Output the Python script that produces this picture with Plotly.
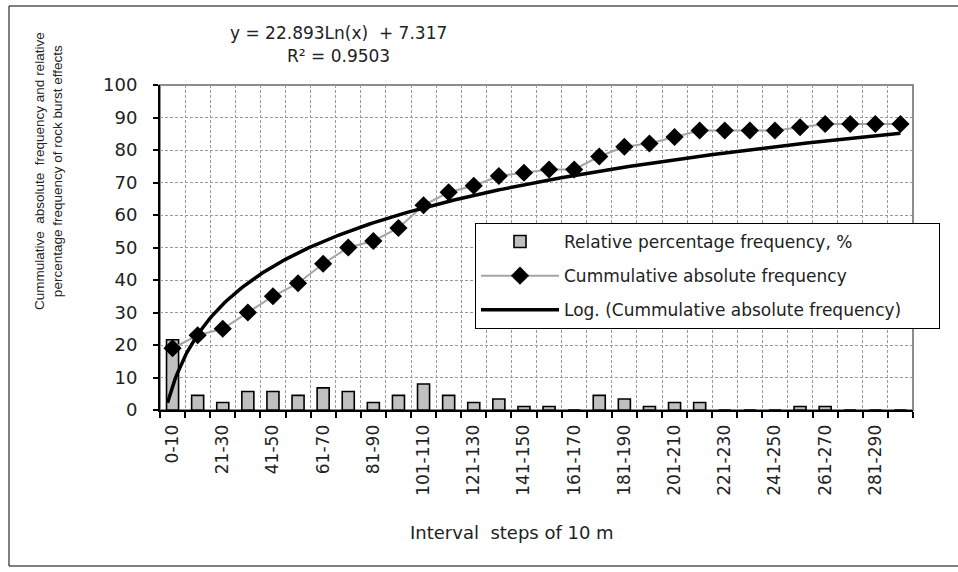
import numpy as np
import plotly.graph_objects as go

# Interval categories (10 m steps)
intervals = ["0-10"] + [f"{a + 1}-{a + 10}" for a in range(10, 300, 10)]

# Cumulative absolute frequency of rock burst effects
cumulative = [19, 23, 25, 30, 35, 39, 45, 50, 52, 56,
              63, 67, 69, 72, 73, 74, 74, 78, 81, 82,
              84, 86, 86, 86, 86, 87, 88, 88, 88, 88]

# Relative percentage frequency, %
relative = [21.6, 4.5, 2.3, 5.7, 5.7, 4.5, 6.8, 5.7, 2.3, 4.5,
            8.0, 4.5, 2.3, 3.4, 1.1, 1.1, 0.0, 4.5, 3.4, 1.1,
            2.3, 2.3, 0.0, 0.0, 0.0, 1.1, 1.1, 0.0, 0.0, 0.0]

# Logarithmic trendline coefficients
trend_a, trend_b, trend_r2 = 22.893, 7.317, 0.9503

idx = np.arange(1, len(intervals) + 1)
xt = np.linspace(0.8, len(intervals), 400)
yt = trend_a * np.log(xt) + trend_b

W, H = 958, 572
L, R, T, B = 160, 913, 85, 410


def px(x):
    return (x - L) / (R - L)


def py(y):
    return (B - y) / (B - T)


FONT = "DejaVu Sans, Verdana, sans-serif"
FONT_TITLE = "Liberation Sans, Arial, sans-serif"
TXT = "#222222"
GRID = "#9a9a9a"
PAD = "\u00a0" * 6

fig = go.Figure()
fig.add_trace(go.Bar(
    x=idx, y=relative, width=0.48,
    marker=dict(color="#c0c0c0", line=dict(color="black", width=1.6)),
    name="Relative percentage frequency, %", legendgroup="g1",
))
fig.add_trace(go.Scatter(
    x=idx, y=cumulative, mode="lines+markers",
    line=dict(color="#a6a6a6", width=2),
    marker=dict(symbol="diamond", size=14, color="black"),
    name="Cummulative absolute frequency", legendgroup="g2",
))
fig.add_trace(go.Scatter(
    x=xt, y=yt, mode="lines",
    line=dict(color="black", width=3.5),
    name="Log. (Cummulative absolute frequency)" + PAD, legendgroup="g3",
))

fig.update_layout(
    width=W, height=H,
    margin=dict(l=L, r=W - R, t=T, b=H - B, pad=0),
    paper_bgcolor="white", plot_bgcolor="white",
    font=dict(family=FONT, size=17, color=TXT),
    showlegend=True,
    legend=dict(
        x=px(475), y=py(223), xanchor="left", yanchor="top",
        bgcolor="white", bordercolor="black", borderwidth=1,
        font=dict(family=FONT, size=17, color=TXT), itemwidth=78,
        tracegroupgap=9,
    ),
    bargap=0.52,
)

fig.update_xaxes(
    range=[0.5, len(intervals) + 0.5],
    tickmode="array", tickvals=idx[::2].tolist(), ticktext=intervals[::2],
    tickangle=-90, ticks="", showgrid=False, ticklabelstandoff=6,
    showline=True, linecolor="black", linewidth=2,
    tickfont=dict(family=FONT, size=17, color=TXT),
    minor=dict(tick0=0.5, dtick=1, ticks="outside", ticklen=6,
               tickcolor="black", tickwidth=1.5,
               showgrid=True, gridcolor=GRID, griddash="3px,2px", gridwidth=1),
    zeroline=False,
)
fig.update_yaxes(
    range=[0, 100], dtick=10, ticks="outside", ticklen=5,
    tickcolor="black", tickwidth=1.5, ticklabelstandoff=12,
    showline=True, linecolor="black", linewidth=2,
    showgrid=True, gridcolor=GRID, griddash="3px,2px", gridwidth=1,
    tickfont=dict(family=FONT, size=18, color=TXT), zeroline=False,
)

# Plot-area frame (top and right edges in grey)
fig.add_shape(type="rect", xref="paper", yref="paper", x0=0, x1=1, y0=0, y1=1,
              line=dict(color="#8c8c8c", width=2), layer="below")
# Outer chart frame
fig.add_shape(type="rect", xref="paper", yref="paper",
              x0=px(9), x1=px(990), y0=py(566), y1=py(6),
              line=dict(color="black", width=1), layer="below")

fig.add_annotation(text=f"y = {trend_a}Ln(x)  + {trend_b}",
                   xref="paper", yref="paper", x=px(338), y=py(33),
                   xanchor="center", yanchor="middle",
                   showarrow=False, font=dict(family=FONT, size=17, color=TXT))
fig.add_annotation(text=f"R² = {trend_r2}",
                   xref="paper", yref="paper", x=px(338), y=py(56),
                   xanchor="center", yanchor="middle",
                   showarrow=False, font=dict(family=FONT, size=17, color=TXT))
fig.add_annotation(text="Cummulative  absolute  frequency and relative<br>"
                        "percentage frequency of rock burst effects",
                   xref="paper", yref="paper", x=px(48), y=py(171),
                   xanchor="center", yanchor="middle",
                   textangle=-90, showarrow=False,
                   font=dict(family=FONT_TITLE, size=13.5, color=TXT))
fig.add_annotation(text="Interval  steps of 10 m",
                   xref="paper", yref="paper", x=px(512), y=py(532),
                   xanchor="center", yanchor="middle",
                   showarrow=False, font=dict(family=FONT, size=18, color=TXT))

fig.write_html("out.html")
